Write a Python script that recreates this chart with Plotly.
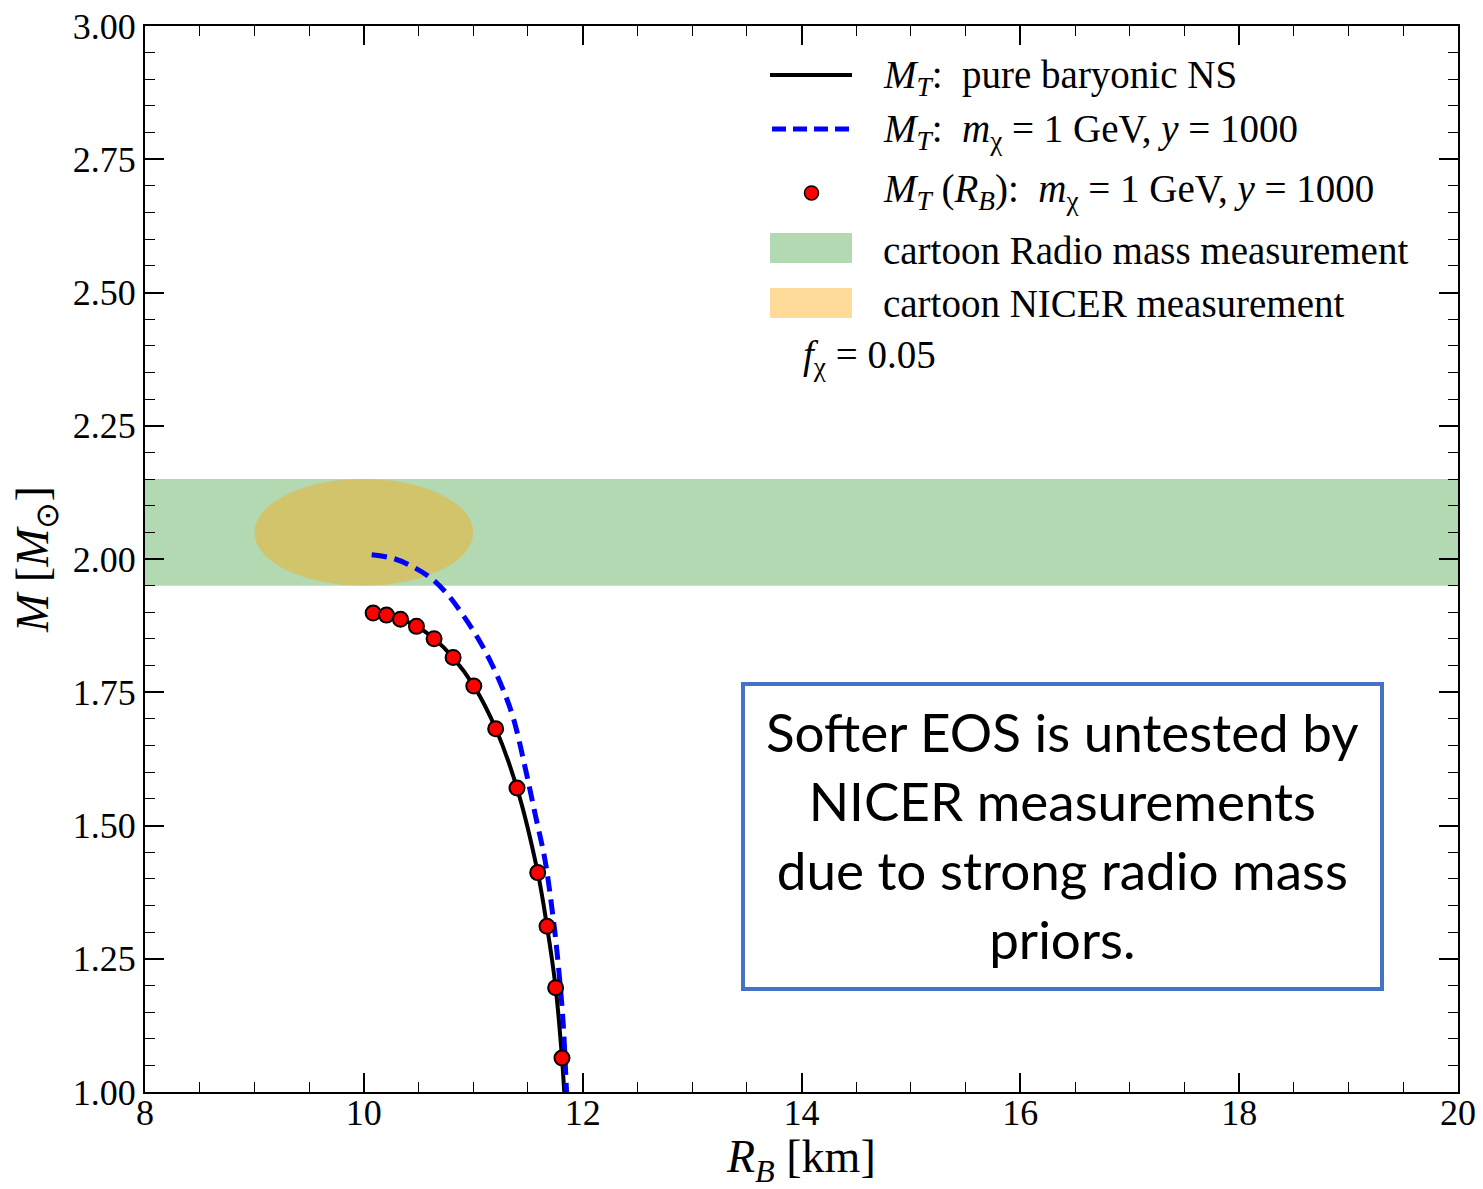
import plotly.graph_objects as go

# Mass-radius curve of the pure baryonic neutron star
r_pure = [10.03, 10.085, 10.207, 10.335, 10.481, 10.642, 10.816, 11.005, 11.205,
          11.400, 11.589, 11.674, 11.753, 11.811, 11.836]
m_pure = [1.900, 1.898, 1.895, 1.887, 1.874, 1.851, 1.815, 1.762, 1.682,
          1.570, 1.412, 1.311, 1.196, 1.064, 0.985]

# Total mass with dark matter admixture (m_chi = 1 GeV, y = 1000)
r_dm = [10.072, 10.270, 10.452, 10.621, 10.772, 10.909, 11.047, 11.169, 11.275,
        11.367, 11.473, 11.565, 11.656, 11.725, 11.764, 11.818, 11.852, 11.856]
m_dm = [2.008, 2.001, 1.985, 1.963, 1.932, 1.894, 1.850, 1.803, 1.754,
        1.701, 1.610, 1.522, 1.435, 1.335, 1.266, 1.141, 1.003, 0.985]

# Total mass evaluated at the baryonic radius
r_b_pts = [10.085, 10.207, 10.335, 10.481, 10.642, 10.816, 11.005, 11.205,
           11.400, 11.589, 11.674, 11.753, 11.811]
m_t_pts = [1.8985, 1.8947, 1.887, 1.8736, 1.8505, 1.8154, 1.7616, 1.6817,
           1.5702, 1.4116, 1.3108, 1.1958, 1.0638]

# Cartoon measurements
radio_band = [1.95, 2.15]           # mass range
nicer_r = [9.0, 11.0]               # radius extent of the NICER ellipse
nicer_m = [1.95, 2.15]              # mass extent of the NICER ellipse

x_ticks = [8, 10, 12, 14, 16, 18, 20]
y_ticks = [1.00, 1.25, 1.50, 1.75, 2.00, 2.25, 2.50, 2.75, 3.00]

W, H = 1483, 1189
L, R, T, B = 145, 25, 26, 97
SERIF = "Liberation Serif"


def px(x):
    return (x - L) / (W - L - R)


def py(y):
    return (H - B - y) / (H - T - B)


fig = go.Figure()

fig.add_trace(go.Scatter(x=r_pure, y=m_pure, mode="lines",
                         line=dict(color="black", width=4, shape="spline"),
                         showlegend=False))
fig.add_trace(go.Scatter(x=r_dm, y=m_dm, mode="lines",
                         line=dict(color="#0000ff", width=5, dash="15px,8px",
                                   shape="spline"),
                         showlegend=False))
fig.add_trace(go.Scatter(x=r_b_pts, y=m_t_pts, mode="markers",
                         marker=dict(color="#ff0000", size=15,
                                     line=dict(color="black", width=2)),
                         showlegend=False))

shapes = [
    dict(type="rect", xref="paper", yref="y", x0=0, x1=1,
         y0=radio_band[0], y1=radio_band[1], layer="below",
         fillcolor="rgba(0,128,0,0.3)", line=dict(width=0)),
    dict(type="circle", xref="x", yref="y", x0=nicer_r[0], x1=nicer_r[1],
         y0=nicer_m[0], y1=nicer_m[1], layer="below",
         fillcolor="rgba(255,165,0,0.4)", line=dict(width=0)),
    # text box
    dict(type="rect", xref="paper", yref="paper", x0=px(743), x1=px(1382),
         y0=py(989), y1=py(684), line=dict(color="#4472c4", width=4),
         fillcolor="white"),
    # legend handles
    dict(type="line", xref="paper", yref="paper", x0=px(770), x1=px(852),
         y0=py(75), y1=py(75), line=dict(color="black", width=4)),
    dict(type="line", xref="paper", yref="paper", x0=px(772), x1=px(852),
         y0=py(129), y1=py(129), line=dict(color="#0000ff", width=5, dash="14px,7px")),
    dict(type="circle", xref="paper", yref="paper", x0=px(804.5), x1=px(818.5),
         y0=py(200), y1=py(186), fillcolor="#ff0000",
         line=dict(color="black", width=1.5)),
    dict(type="rect", xref="paper", yref="paper", x0=px(770), x1=px(852),
         y0=py(263), y1=py(233), fillcolor="rgba(0,128,0,0.3)", line=dict(width=0)),
    dict(type="rect", xref="paper", yref="paper", x0=px(770), x1=px(852),
         y0=py(318), y1=py(288), fillcolor="rgba(255,165,0,0.4)", line=dict(width=0)),
]

MT = "<i>M</i><sub><i>T</i></sub>"
legend_items = [
    (77, MT + ":  pure baryonic NS"),
    (131, MT + ":  <i>m</i><sub>χ</sub> = 1 GeV, <i>y</i> = 1000"),
    (191, MT + " (<i>R</i><sub><i>B</i></sub>):  <i>m</i><sub>χ</sub> = 1 GeV, <i>y</i> = 1000"),
    (250, "cartoon Radio mass measurement"),
    (303, "cartoon NICER measurement"),
]
annotations = []
for yy, txt in legend_items:
    annotations.append(dict(xref="paper", yref="paper", x=px(881), y=py(yy),
                            xanchor="left", yanchor="middle", text=txt,
                            showarrow=False, font=dict(family=SERIF, size=39,
                                                       color="black")))
annotations.append(dict(xref="paper", yref="paper", x=px(801), y=py(357),
                        xanchor="left", yanchor="middle",
                        text="<i>f</i><sub>χ</sub> = 0.05", showarrow=False,
                        font=dict(family=SERIF, size=39, color="black")))
annotations.append(dict(xref="paper", yref="paper", x=px(1062), y=py(835),
                        xanchor="center", yanchor="middle",
                        text="Softer EOS is untested by<br>NICER measurements<br>"
                             "due to strong radio mass<br>priors.",
                        showarrow=False, align="center",
                        font=dict(family="Lato", size=53, color="black")))
# axis titles
annotations.append(dict(xref="paper", yref="paper", x=px(801), y=py(1160),
                        xanchor="center", yanchor="middle",
                        text="<i>R</i><sub><i>B</i></sub> [km]", showarrow=False,
                        font=dict(family=SERIF, size=46, color="black")))
annotations.append(dict(xref="paper", yref="paper", x=px(36), y=py(560),
                        xanchor="center", yanchor="middle", textangle=-90,
                        text="<i>M</i> [<i>M</i><sub>⊙</sub>]", showarrow=False,
                        font=dict(family=SERIF, size=46, color="black")))

axis_common = dict(
    showgrid=False, zeroline=False, showline=True, linecolor="black", linewidth=2,
    mirror="allticks", ticks="inside", ticklen=19, tickwidth=1.6, tickcolor="black",
    tickfont=dict(family=SERIF, size=36, color="black"), automargin=False,
)

fig.update_layout(
    width=W, height=H,
    margin=dict(l=L, r=R, t=T, b=B),
    plot_bgcolor="white", paper_bgcolor="white",
    showlegend=False,
    shapes=shapes,
    annotations=annotations,
    xaxis=dict(range=[8, 20], tickvals=x_ticks, ticktext=[str(v) for v in x_ticks],
               minor=dict(dtick=0.5, ticks="inside", ticklen=10, tickwidth=1.4,
                          tickcolor="black", showgrid=False),
               ticklabelstandoff=-12,
               **axis_common),
    yaxis=dict(range=[1, 3], tickvals=y_ticks, ticktext=[f"{v:.2f}" for v in y_ticks],
               minor=dict(dtick=0.05, ticks="inside", ticklen=10, tickwidth=1.4,
                          tickcolor="black", showgrid=False),
               **axis_common),
)

fig.write_html("out.html")
